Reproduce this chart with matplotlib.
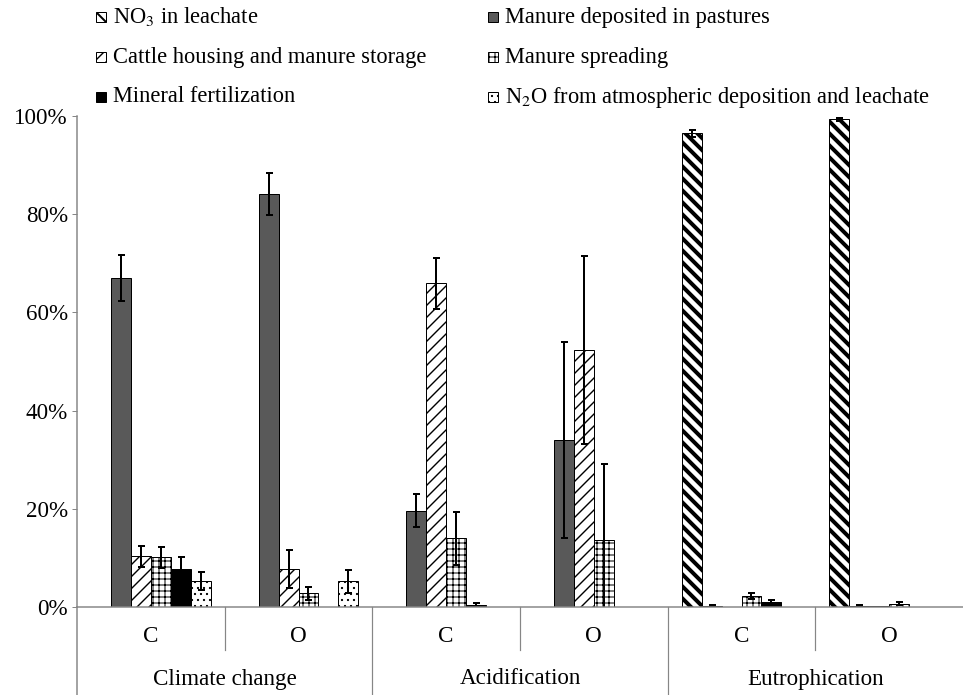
import numpy as np
import matplotlib
matplotlib.use("Agg")
import matplotlib.pyplot as plt
from matplotlib.patches import Rectangle
from matplotlib.ticker import PercentFormatter

plt.rcParams["font.family"] = ["Liberation Serif", "DejaVu Serif"]
plt.rcParams["mathtext.fontset"] = "stix"

# Impact categories, each split into conventional (C) and organic (O) farms
impacts = ["Climate change", "Acidification", "Eutrophication"]
systems = ["C", "O"]

series_names = [
    "NO$_3$ in leachate",
    "Manure deposited in pastures",
    "Cattle housing and manure storage",
    "Manure spreading",
    "Mineral fertilization",
    "N$_2$O from atmospheric deposition and leachate",
]

# Contribution (%) per sub-group: CC-C, CC-O, Ac-C, Ac-O, Eu-C, Eu-O
no3_leachate = [0, 0, 0, 0, 96.5, 99.3]
no3_leachate_err = [0, 0, 0, 0, 0.7, 0.3]
pastures = [67.0, 84.1, 19.6, 34.0, 0.3, 0.3]
pastures_err = [4.7, 4.2, 3.4, 20.0, 0.1, 0.1]
housing_storage = [10.3, 7.7, 65.9, 52.3, 0.1, 0.3]
housing_storage_err = [2.2, 3.9, 5.2, 19.2, 0, 0]
spreading = [10.1, 2.8, 14.0, 13.6, 2.3, 0.7]
spreading_err = [2.2, 1.3, 5.4, 15.5, 0.6, 0.3]
mineral = [7.7, 0, 0.5, 0, 1.0, 0]
mineral_err = [2.4, 0, 0.3, 0, 0.5, 0]
n2o_indirect = [5.3, 5.2, 0, 0, 0, 0]
n2o_indirect_err = [1.9, 2.3, 0, 0, 0, 0]

values = [no3_leachate, pastures, housing_storage, spreading, mineral, n2o_indirect]
errors = [no3_leachate_err, pastures_err, housing_storage_err, spreading_err,
          mineral_err, n2o_indirect_err]

styles = [
    dict(facecolor="white", hatch="\\\\", hlw=4.0, hcolor="black"),
    dict(facecolor="#595959", hatch=None, hlw=1.0, hcolor="black"),
    dict(facecolor="white", hatch="//", hlw=1.4, hcolor="#3a3a3a"),
    dict(facecolor="white", hatch="++", hlw=1.0, hcolor="black"),
    dict(facecolor="black", hatch=None, hlw=1.0, hcolor="black"),
    dict(facecolor="white", hatch="..", hlw=1.0, hcolor="black"),
]

FS = 23
W, H, DPI = 963, 695, 72
fig = plt.figure(figsize=(W / DPI, H / DPI), dpi=DPI)
ax = fig.add_axes([77 / W, 1 - 607 / H, (963 - 77) / W, (607 - 116) / H])

n_sub = len(impacts) * len(systems)
x = np.arange(n_sub) + 0.5
bw = 0.135
axis_grey = "#868686"

for k, (vals, errs, st) in enumerate(zip(values, errors, styles)):
    xpos = x + (k - 2.5) * bw
    plt.rcParams["hatch.linewidth"] = st["hlw"]
    plt.rcParams["hatch.color"] = st["hcolor"]
    ax.bar(xpos, vals, width=bw, facecolor=st["facecolor"], edgecolor="black",
           linewidth=1.0, hatch=st["hatch"], zorder=2)
    vals = np.asarray(vals, float)
    errs = np.asarray(errs, float)
    m = errs > 0
    ax.errorbar(xpos[m], vals[m], yerr=errs[m], fmt="none", ecolor="black",
                elinewidth=2, capsize=3.5, capthick=2, zorder=3)

ax.set_xlim(0, n_sub)
ax.set_ylim(0, 100)
ax.yaxis.set_major_formatter(PercentFormatter(decimals=0))
ax.set_yticks(np.arange(0, 101, 20))
ax.tick_params(axis="y", length=5, width=1, color=axis_grey, labelsize=FS, pad=4)
ax.set_xticks([])
for s in ["top", "right"]:
    ax.spines[s].set_visible(False)
for s in ["left", "bottom"]:
    ax.spines[s].set_color(axis_grey)
    ax.spines[s].set_linewidth(1.5)
    ax.spines[s].set_zorder(4)

# Hierarchical category axis below the plot
trans = ax.get_xaxis_transform()
span = 607 - 116
bottom_ax = -(695 - 607) / span
inner_low = -(650 - 607) / span
for i in range(1, n_sub):
    low = bottom_ax if i % 2 == 0 else inner_low
    ax.plot([i, i], [0, low], transform=trans, color=axis_grey, lw=1.2,
            clip_on=False)
ax.plot([0, 0], [0, bottom_ax], transform=trans, color=axis_grey, lw=1.5,
        clip_on=False)
for i in range(n_sub):
    ax.text(x[i], -(637 - 607) / span, systems[i % 2], transform=trans,
            ha="center", va="center", fontsize=FS)
for g, name in enumerate(impacts):
    ax.text(2 * g + 1, -(679 - 607) / span, name, transform=trans,
            ha="center", va="center", fontsize=FS)

# Legend laid out in two columns of three rows
order = [0, 2, 4, 1, 3, 5]
col_x = [96, 488]
row_y = [17, 57, 97]
for n, k in enumerate(order):
    cx, cy = col_x[n // 3], row_y[n % 3]
    st = styles[k]
    plt.rcParams["hatch.linewidth"] = min(st["hlw"], 2.0)
    plt.rcParams["hatch.color"] = st["hcolor"]
    fig.add_artist(Rectangle((cx / W, 1 - (cy + 5) / H), 10 / W, 10 / H,
                             transform=fig.transFigure, facecolor=st["facecolor"],
                             edgecolor="black", linewidth=1.0, hatch=st["hatch"]))
    fig.text((cx + 17) / W, 1 - cy / H, series_names[k], ha="left", va="center",
             fontsize=FS - 0.5)

fig.savefig("out.png", dpi=DPI)
